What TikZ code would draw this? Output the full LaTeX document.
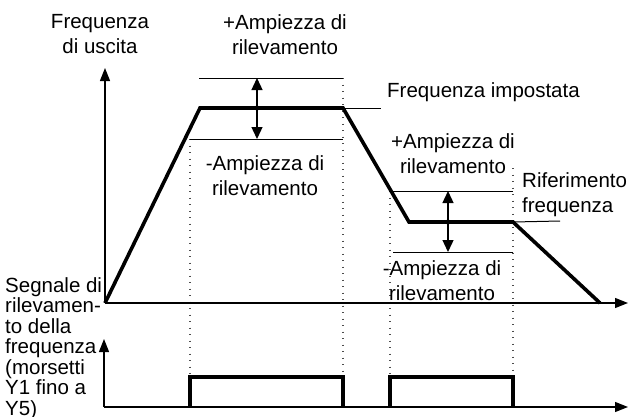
\documentclass[tikz,border=0pt]{standalone}
\usepackage{fontspec}
\setmainfont{Liberation Sans}
\usetikzlibrary{arrows.meta}
\tikzset{
  axis/.style={line width=1.3pt,-{Triangle[length=13pt,width=10pt]}},
  thin/.style={line width=1pt},
  thick3/.style={line width=3.6pt,line join=miter},
  dotv/.style={line width=1.3pt,dash pattern=on 1.3pt off 5.2pt,black!70},
  darr/.style={line width=1.3pt,{Triangle[length=12pt,width=11pt]}-{Triangle[length=12pt,width=11pt]}},
  lbl/.style={font=\fontsize{20.5}{25}\selectfont,inner sep=0pt,align=center},
  lbll/.style={font=\fontsize{20.5}{20.5}\selectfont,inner sep=0pt,align=left}
}
\begin{document}
\begin{tikzpicture}[x=1pt,y=-1pt]
\useasboundingbox (0,0) rectangle (631,416);
% key coordinates
\coordinate (o1) at (105,303);
\coordinate (yt) at (105,68);
\coordinate (xt) at (628,303);
\coordinate (o2) at (104,407);
\coordinate (yt2) at (104,339);
\coordinate (xt2) at (628,407);
\coordinate (p1) at (200,108);
\coordinate (p2) at (343,108);
\coordinate (p3) at (409,222);
\coordinate (p4) at (513,222);
\coordinate (p5) at (600,303);
\coordinate (fi) at (381,108);
\coordinate (rf) at (560,221);
\coordinate (u1a) at (199,78);
\coordinate (u1b) at (343,78);
\coordinate (l1a) at (190,139);
\coordinate (l1b) at (343,139);
\coordinate (a1t) at (257,78);
\coordinate (a1b) at (257,139);
\coordinate (d1) at (257,108);
\coordinate (u2a) at (393,191);
\coordinate (u2b) at (513,191);
\coordinate (l2a) at (393,252);
\coordinate (l2b) at (513,252);
\coordinate (a2t) at (448,191);
\coordinate (a2b) at (448,252);
\coordinate (d2) at (448,222);
% pulses
\coordinate (q1) at (190,407);
\coordinate (q2) at (190,377);
\coordinate (q3) at (343,377);
\coordinate (q4) at (343,407);
\coordinate (r1) at (390,407);
\coordinate (r2) at (390,377);
\coordinate (r3) at (513,377);
\coordinate (r4) at (513,407);
\coordinate (v3t) at (390,191);
\coordinate (v4t) at (513,168);

% dotted verticals
\draw[dotv] (l1a) -- (q2);
\draw[dotv] (u1b) -- (q3);
\draw[dotv] (v3t) -- (r2);
\draw[dotv] (v4t) -- (r3);

% axes
\draw[axis] (o1) -- (yt);
\draw[axis] (o1) -- (xt);
\draw[axis] (o2) -- (yt2);
\draw[axis] (o2) -- (xt2);

% bands
\draw[thin] (u1a) -- (u1b);
\draw[thin] (l1a) -- (l1b);
\draw[thin] (u2a) -- (u2b);
\draw[thin] (l2a) -- (l2b);
\draw[thin] (p2) -- (fi);
\draw[thin] (p4) -- (rf);
\draw[darr] (a1t) -- (a1b);
\draw[darr] (a2t) -- (a2b);

% output curve
\draw[thick3] (o1) -- (p1) -- (p2) -- (p3) -- (p4) -- (p5);
\fill (d1) circle (2.6);
\fill (d2) circle (2.6);

% pulses
\draw[thick3] (q1) -- (q2) -- (q3) -- (q4);
\draw[thick3] (r1) -- (r2) -- (r3) -- (r4);

% labels
\node[lbl,anchor=north] (tf) at (100,14) {Frequenza\\di uscita};
\node[lbl,anchor=north] (tp1) at (285,14) {+Ampiezza di\\rilevamento};
\node[lbl,anchor=north] (tm1) at (265,155) {-Ampiezza di\\rilevamento};
\node[lbl,anchor=north west] (tfi) at (387,82) {Frequenza impostata};
\node[lbl,anchor=north] (tp2) at (453,133) {+Ampiezza di\\rilevamento};
\node[lbl,anchor=north west,align=left] (trf) at (522,172) {Riferimento\\frequenza};
\node[lbl,anchor=north] (tm2) at (442,260) {-Ampiezza di\\rilevamento};
\node[lbll,anchor=north west] (tsg) at (5,277) {Segnale di\\rilevamen-\\to della\\frequenza\\(morsetti\\Y1 fino a\\Y5)};
\end{tikzpicture}
\end{document}
